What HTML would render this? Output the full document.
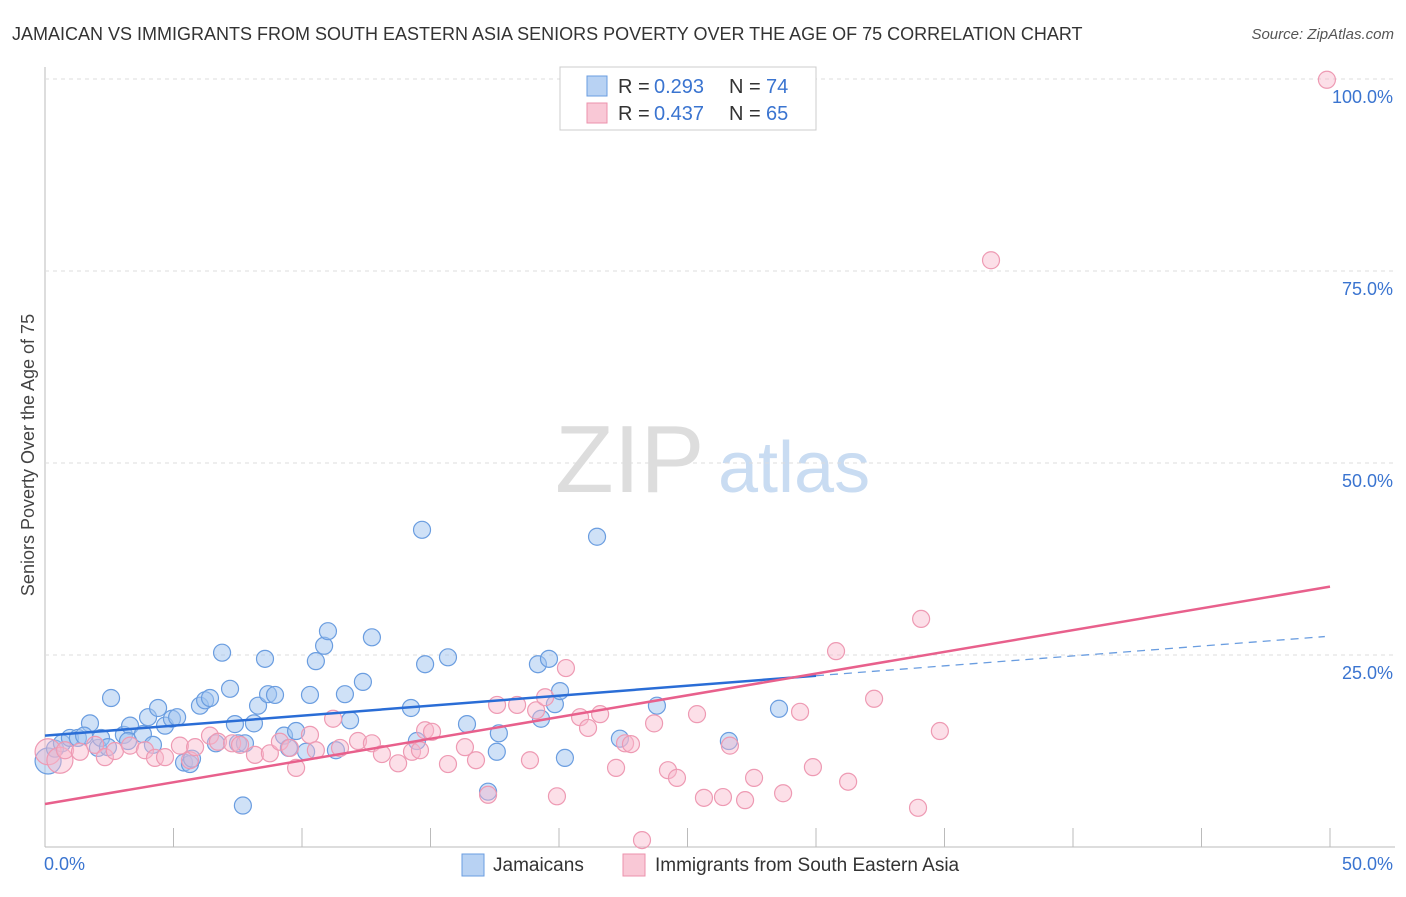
<!DOCTYPE html>
<html><head><meta charset="utf-8"><style>
body{margin:0;background:#fff;font-family:"Liberation Sans",sans-serif;}
svg text{font-family:"Liberation Sans",sans-serif;}
</style></head><body>
<svg id="c" width="1406" height="892">
<text x="12" y="40" font-size="18" fill="#333">JAMAICAN VS IMMIGRANTS FROM SOUTH EASTERN ASIA SENIORS POVERTY OVER THE AGE OF 75 CORRELATION CHART</text>
<text x="1394" y="39" font-size="15" fill="#555" font-style="italic" text-anchor="end">Source: ZipAtlas.com</text>
<text x="34" y="455" font-size="18" fill="#444" text-anchor="middle" transform="rotate(-90 34 455)">Seniors Poverty Over the Age of 75</text>
<text x="555" y="492" font-size="96" fill="#ddd" font-family="Liberation Serif">ZIP</text>
<text x="718" y="492" font-size="72" fill="#c9dcf2">atlas</text>
<g id="grid"></g><g id="pts"></g><g id="lines"></g>
<g>
<rect x="560" y="67" width="256" height="63" fill="#fff" stroke="#ccc"/>
<rect x="587" y="76" width="20" height="20" fill="#b8d2f3" stroke="#6a9de0"/>
<rect x="587" y="103" width="20" height="20" fill="#f9c8d6" stroke="#ec92ac"/>
<text x="618" y="93" font-size="20" fill="#333">R =</text>
<text x="654" y="93" font-size="20" fill="#3a74d0">0.293</text>
<text x="729" y="93" font-size="20" fill="#333">N =</text>
<text x="766" y="93" font-size="20" fill="#3a74d0">74</text>
<text x="618" y="120" font-size="20" fill="#333">R =</text>
<text x="654" y="120" font-size="20" fill="#3a74d0">0.437</text>
<text x="729" y="120" font-size="20" fill="#333">N =</text>
<text x="766" y="120" font-size="20" fill="#3a74d0">65</text>
</g>
<g>
<rect x="462" y="854" width="22" height="22" fill="#b8d2f3" stroke="#6a9de0"/>
<text x="493" y="871" font-size="19" fill="#333">Jamaicans</text>
<rect x="623" y="854" width="22" height="22" fill="#f9c8d6" stroke="#ec92ac"/>
<text x="655" y="871" font-size="19" fill="#333">Immigrants from South Eastern Asia</text>
</g>
</svg>
<script>
const yTicks=[25,50,75,100];
const yTickLabels=["25.0%","50.0%","75.0%","100.0%"];
const xTickLabels=["0.0%","50.0%"];
const blueX=[0.12,0.39,0.66,0.97,1.28,1.75,1.52,2.06,2.18,2.45,2.57,3.07,3.31,3.23,3.81,4.01,4.20,4.40,4.67,4.94,5.14,5.41,5.64,5.72,6.03,6.23,6.42,6.65,6.89,7.20,7.39,7.51,7.70,7.78,8.13,8.29,8.56,8.68,8.95,9.30,9.49,9.77,10.16,10.31,10.54,10.86,11.01,11.32,11.67,11.87,12.37,12.72,14.24,14.47,14.67,14.79,15.68,16.42,17.24,17.58,17.66,19.18,19.30,19.61,19.84,20.04,20.23,21.48,22.37,23.81,26.61,28.56];
const blueY=[11.2,12.8,13.5,14.2,14.2,16.1,14.5,12.9,14.2,13.0,19.4,14.6,15.8,13.8,14.7,16.9,13.3,18.1,15.8,16.7,16.9,11.0,10.8,11.5,18.4,19.1,19.4,13.5,25.3,20.6,16.0,13.5,5.4,13.5,16.1,18.4,24.5,19.9,19.8,14.5,12.9,15.1,12.4,19.8,24.2,26.2,28.1,12.6,19.9,16.5,21.5,27.3,18.1,13.8,41.3,23.8,24.7,16.0,7.2,12.4,14.8,23.8,16.7,24.5,18.6,20.3,11.6,40.4,14.1,18.4,13.8,18.0];
const pinkX=[0.12,0.58,0.78,1.36,1.95,2.33,2.72,3.31,3.89,4.28,4.67,5.25,5.64,5.84,6.42,6.73,7.28,7.59,8.17,8.75,9.14,9.53,9.77,10.31,10.54,11.21,11.48,12.18,12.72,13.11,13.74,14.28,14.59,14.79,15.06,15.68,16.34,16.77,17.24,17.59,18.37,18.87,19.11,19.46,19.92,20.27,20.82,21.13,21.60,22.22,22.57,22.80,23.23,23.70,24.24,24.59,25.37,25.64,26.38,26.65,27.24,27.59,28.72,29.38,29.88,30.78,31.25,32.26,33.97,34.09,34.82,36.81,49.88];
const pinkY=[12.4,11.3,12.6,12.4,13.3,11.7,12.5,13.2,12.6,11.6,11.7,13.2,11.3,13.0,14.5,13.7,13.5,13.3,12.0,12.2,13.7,12.9,10.3,14.6,12.6,16.7,12.9,13.8,13.5,12.1,10.9,12.4,12.6,15.2,15.0,10.8,13.0,11.3,6.8,18.5,18.5,11.3,17.8,19.5,6.6,23.3,16.9,15.5,17.3,10.3,13.5,13.4,0.9,16.1,10.0,9.0,17.3,6.4,6.5,13.2,6.1,9.0,7.0,17.6,10.4,25.5,8.5,19.3,5.1,29.7,15.1,76.4,99.9];
const S='http://www.w3.org/2000/svg';
const X0=45,X1=1330,Y0=847,Y100=79;
const sx=v=>X0+(v/50)*(X1-X0);
const sy=v=>Y0-(v/100)*(Y0-Y100);
function mk(t,a,p){const e=document.createElementNS(S,t);for(const k in a)e.setAttribute(k,a[k]);p.appendChild(e);return e;}
const g=document.getElementById('grid');
const ax=mk('line',{x1:X0,y1:67,x2:X0,y2:Y0,stroke:'#bbb'},g);


const bx=mk('line',{x1:X0,y1:Y0,x2:1395,y2:Y0,stroke:'#bbb'},g);


yTicks.forEach((t,i)=>{
 const l=mk('line',{x1:X0,y1:sy(t),x2:1395,y2:sy(t),stroke:'#ddd','stroke-dasharray':'4,4'},g);
 
 
 const tx=mk('text',{x:1393,y:sy(t)+24,'font-size':18,fill:'#3a74d0','text-anchor':'end'},g);
 tx.textContent=yTickLabels[i];
 
 
});
for(let i=1;i<=10;i++){
 const x=X0+i*(X1-X0)/10;
 const l=mk('line',{x1:x,y1:828,x2:x,y2:Y0,stroke:'#bbb'},g);
 
 
}
[[X0-1,'start',0],[1393,'end',1]].forEach(([x,a,i])=>{
 const t=mk('text',{x:x,y:870,'font-size':18,fill:'#3a74d0','text-anchor':a},g);
 t.textContent=xTickLabels[i];
 
 
});
const P=document.getElementById('pts');
blueX.forEach((v,i)=>{
 const c=mk('circle',{cx:sx(v),cy:sy(blueY[i]),r:i==0?13:8.5,fill:'rgba(160,195,240,0.5)',stroke:'#6a9de0','stroke-width':1.2},P);
 
 
});
pinkX.forEach((v,i)=>{
 const c=mk('circle',{cx:sx(v),cy:sy(pinkY[i]),r:i<2?13:8.5,fill:'rgba(248,185,205,0.45)',stroke:'#ee9ab3','stroke-width':1.2},P);
 
 
});
const L=document.getElementById('lines');
const b1=mk('line',{x1:sx(0),y1:sy(14.5),x2:sx(30),y2:sy(22.3),stroke:'#2a6dd6','stroke-width':2.5},L);


const b2=mk('line',{x1:sx(30),y1:sy(22.3),x2:sx(49.8),y2:sy(27.4),stroke:'#6a9de0','stroke-width':1.3,'stroke-dasharray':'8,6'},L);


const p1=mk('line',{x1:sx(0),y1:sy(5.6),x2:sx(50),y2:sy(33.9),stroke:'#e8608c','stroke-width':2.5},L);


</script>
</body></html>
